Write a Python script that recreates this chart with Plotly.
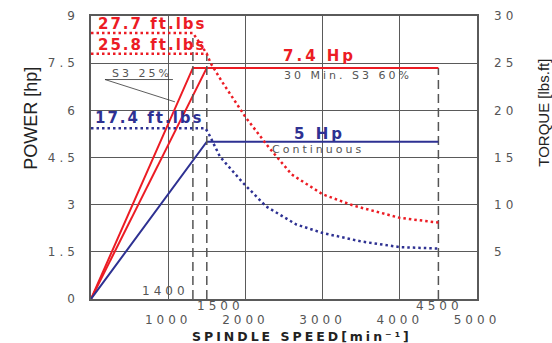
import plotly.graph_objects as go

# ---------------- data ----------------
RED = "#ec1c24"
BLUE = "#2e3192"
GRAY = "#555555"

# power curves (hp) vs spindle speed (min^-1)
s3_25_x = [0, 1320, 4500]
s3_25_hp = [0, 7.35, 7.35]
s3_60_x = [0, 1500]
s3_60_hp = [0, 7.35]
cont_x = [0, 1500, 4500]
cont_hp = [0, 5.0, 5.0]

# torque curves (lbs.ft)
tq_s3_25_x = [0, 1320, 1500]
tq_s3_25 = [28.2, 28.2, 26.0]
tq_s3_60_x = [0, 1500, 1550, 1700, 2000, 2300, 2600, 3000, 3200, 3400, 4000, 4500]
tq_s3_60 = [26.0, 26.0, 25.0, 23.0, 19.3, 16.1, 13.2, 11.1, 10.5, 9.9, 8.6, 8.1]
tq_cont_x = [0, 1480, 1520, 1670, 1970, 2270, 2660, 3000, 3500, 4000, 4500]
tq_cont = [18.1, 18.1, 17.6, 15.1, 12.3, 9.8, 7.9, 7.0, 6.1, 5.5, 5.35]

# marker speeds
speed_marks = [1320, 1500, 4500]
speed_labels = ["1400", "1500", "4500"]

x_ticks = [1000, 2000, 3000, 4000, 5000]
hp_ticks = [0, 1.5, 3, 4.5, 6, 7.5, 9]
hp_ticktext = ["0", "1.5", "3", "4.5", "6", "7.5", "9"]
tq_ticks = [5, 10, 15, 20, 25, 30]

# ---------------- figure ----------------
fig = go.Figure()

dash_style = dict(color=GRAY, width=1.5, dash="9px,5px")
fig.add_trace(go.Scatter(x=[speed_marks[0]] * 2, y=[0, tq_s3_25[1]], yaxis="y2",
                         mode="lines", line=dash_style, hoverinfo="skip"))
fig.add_trace(go.Scatter(x=[speed_marks[1]] * 2, y=[0, tq_s3_60[1]], yaxis="y2",
                         mode="lines", line=dash_style, hoverinfo="skip"))
fig.add_trace(go.Scatter(x=[speed_marks[2]] * 2, y=[0, s3_25_hp[-1]],
                         mode="lines", line=dash_style, hoverinfo="skip"))

dot = "2.5px,3px"
fig.add_trace(go.Scatter(x=tq_s3_25_x, y=tq_s3_25, yaxis="y2", mode="lines",
                         line=dict(color=RED, width=2.5, dash=dot)))
fig.add_trace(go.Scatter(x=tq_s3_60_x, y=tq_s3_60, yaxis="y2", mode="lines",
                         line=dict(color=RED, width=2.5, dash=dot)))
fig.add_trace(go.Scatter(x=tq_cont_x, y=tq_cont, yaxis="y2", mode="lines",
                         line=dict(color=BLUE, width=2.5, dash=dot)))

fig.add_trace(go.Scatter(x=s3_25_x, y=s3_25_hp, mode="lines", line=dict(color=RED, width=2)))
fig.add_trace(go.Scatter(x=s3_60_x, y=s3_60_hp, mode="lines", line=dict(color=RED, width=2)))
fig.add_trace(go.Scatter(x=cont_x, y=cont_hp, mode="lines", line=dict(color=BLUE, width=2)))

GRID = "#5a5a5a"
tick_font = dict(family="DejaVu Sans", size=12, color=GRAY)

fig.update_layout(
    width=552, height=343,
    margin=dict(l=91, r=75, t=16, b=44, autoexpand=False),
    paper_bgcolor="white", plot_bgcolor="white",
    showlegend=False,
    xaxis=dict(range=[0, 5000], tickvals=x_ticks, showgrid=True, gridcolor=GRID, gridwidth=1.2,
               showline=True, mirror=True, linecolor=GRID, linewidth=1.5, zeroline=False,
               ticks="", tickfont=tick_font, ticklabelstandoff=9, automargin=False),
    yaxis=dict(range=[0, 9], tickvals=hp_ticks, ticktext=hp_ticktext, showgrid=True,
               gridcolor=GRID, gridwidth=1.2, showline=True, mirror=True, linecolor=GRID,
               linewidth=1.5, zeroline=False, ticks="", tickfont=tick_font, ticklabelstandoff=8,
               automargin=False),
    yaxis2=dict(range=[0, 30], tickvals=tq_ticks, overlaying="y", side="right", showgrid=False,
                zeroline=False, showline=False, ticks="", tickfont=tick_font, ticklabelstandoff=16,
                automargin=False),
)

C = dict(showarrow=False, xanchor="center", yanchor="middle")
ann = []
# 0,1: rotated axis titles (no letter spacing)
ann.append(dict(text="POWER [hp]", xref="paper", yref="paper", x=-0.154, y=0.639, textangle=-90,
                font=dict(family="Liberation Sans", size=18, color="#222"), **C))
ann.append(dict(text="TORQUE [lbs.ft]", xref="paper", yref="paper", x=1.170, y=0.657, textangle=-90,
                font=dict(family="Liberation Sans", size=15, color="#222"), **C))
ann.append(dict(text="<b>SPINDLE SPEED[min⁻¹]</b>", xref="paper", yref="paper", x=0.547, y=-0.134,
                font=dict(family="DejaVu Sans", size=12.5, color="#222"), **C))

bold_font_r = dict(family="DejaVu Sans", size=15, color=RED)
bold_font_b = dict(family="DejaVu Sans", size=15, color=BLUE)
ann.append(dict(text="<b>27.7 ft.lbs</b>", x=802, y=8.75, font=bold_font_r, **C))
ann.append(dict(text="<b>25.8 ft.lbs</b>", x=802, y=8.07, font=bold_font_r, **C))
ann.append(dict(text="<b>17.4 ft.lbs</b>", x=763, y=5.75, font=bold_font_b, **C))
ann.append(dict(text="<b>7.4 Hp</b>", x=2956, y=7.72, font=bold_font_r, **C))
ann.append(dict(text="<b>5 Hp</b>", x=2963, y=5.25, font=bold_font_b, **C))

small = dict(family="DejaVu Sans", size=11, color=GRAY)
ann.append(dict(text="30 Min. S3 60%", x=3325, y=7.12, font=small, **C))
ann.append(dict(text="Continuous", x=2943, y=4.77, font=small, **C))
ann.append(dict(text="S3 25%", x=666, y=7.18, font=small, **C))

ann.append(dict(text=speed_labels[0], x=970, y=0.24, font=tick_font, **C))
ann.append(dict(text=speed_labels[1], x=1682, xref="x", yref="paper", y=-0.026,
                font=tick_font, **C))
ann.append(dict(text=speed_labels[2], x=speed_marks[2] + 15, xref="x", yref="paper", y=-0.026,
                font=tick_font, **C))
fig.update_layout(annotations=ann)

# leader line for "S3 25%"
fig.add_shape(type="path", path="M 1061,6.98 L 181,6.98 L 1087,6.27",
              xref="x", yref="y", line=dict(color="#333", width=0.8))

post = (
    "document.body.style.margin='0';"
    "var st=document.createElement('style');"
    "st.textContent='.xtick text,.ytick text,.y2tick text{letter-spacing:4px}"
    ".annotation text{letter-spacing:3px}"
    ".annotation[data-index=\"3\"] text,.annotation[data-index=\"4\"] text,"
    ".annotation[data-index=\"5\"] text{letter-spacing:2px}"
    ".annotation[data-index=\"11\"] text,.annotation[data-index=\"12\"] text,"
    ".annotation[data-index=\"13\"] text{letter-spacing:4px}"
    ".annotation[data-index=\"0\"] text,.annotation[data-index=\"1\"] text{letter-spacing:0}';"
    "document.head.appendChild(st);"
)
fig.write_html("out.html", post_script=post, config={"displayModeBar": False})
